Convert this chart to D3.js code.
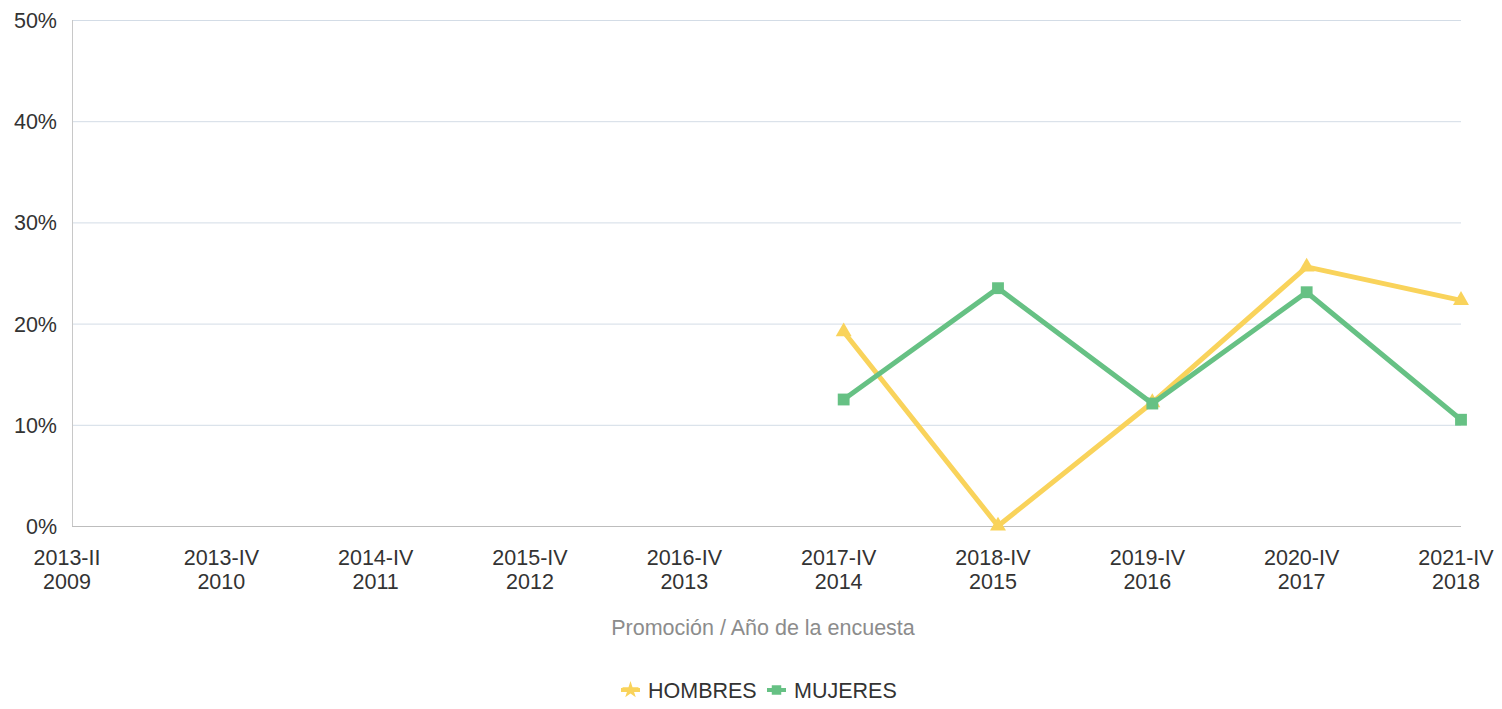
<!DOCTYPE html>
<html><head><meta charset="utf-8">
<script src="https://cdn.jsdelivr.net/npm/d3@7"></script>
<style>body{margin:0;background:#fff;font-family:"Liberation Sans",Arial,sans-serif;}</style>
</head><body><svg id="c" width="1502" height="709"></svg>
<script>
const categories = ["2013-II|2009","2013-IV|2010","2014-IV|2011","2015-IV|2012","2016-IV|2013","2017-IV|2014","2018-IV|2015","2019-IV|2016","2020-IV|2017","2021-IV|2018"];
const hombres = [null,null,null,null,null,19.2,0,12.2,25.6,22.3];
const mujeres = [null,null,null,null,null,12.5,23.5,12.1,23.1,10.5];
const yTicks = [0,10,20,30,40,50];
const xTitle = "Promoción / Año de la encuesta";
const seriesNames = ["HOMBRES","MUJERES"];
const colors = ["#f9d35b","#66c184"];

const svg = d3.select("#c");
const L=72,R=1461,T=20,B=526;
const FS=21.5;
const x = d3.scalePoint().domain(categories).range([L,R]).padding(0);
const y = d3.scaleLinear().domain([0,50]).range([B,T]);

// grid
svg.append("g").selectAll("line").data(yTicks.filter(d=>d>0)).join("line")
  .attr("x1",L).attr("x2",R).attr("y1",d=>y(d)+0.5).attr("y2",d=>y(d)+0.5)
  .attr("stroke","#d3dce6").attr("stroke-width",1);
// axes lines
svg.append("line").attr("x1",L+0.5).attr("x2",L+0.5).attr("y1",T).attr("y2",B).attr("stroke","#c8c8c8");
svg.append("line").attr("x1",L).attr("x2",R).attr("y1",B+0.5).attr("y2",B+0.5).attr("stroke","#bdbdbd");

// y labels
svg.append("g").selectAll("text").data(yTicks).join("text")
  .attr("x",57).attr("y",d=>y(d)+8).attr("text-anchor","end")
  .attr("font-size",FS).attr("fill","#333").text(d=>d+"%");
// x labels
const xl = svg.append("g").selectAll("text").data(categories).join("text")
  .attr("text-anchor","middle").attr("font-size",FS).attr("fill","#333");
xl.each(function(d,i){
  const parts=d.split("|"); const cx = x(d)-5;
  const t=d3.select(this);
  t.append("tspan").attr("x",cx).attr("y",565).text(parts[0]);
  t.append("tspan").attr("x",cx).attr("y",589).text(parts[1]);
});
svg.append("text").attr("x",763).attr("y",635).attr("text-anchor","middle")
  .attr("font-size",FS).attr("fill","#8c8c8c").text(xTitle);

const line = d3.line().defined(d=>d.v!==null).x(d=>x(d.c)).y(d=>y(d.v));
const data = [hombres,mujeres].map(s=>s.map((v,i)=>({c:categories[i],v})));
data.forEach((s,k)=>{
  svg.append("path").datum(s).attr("d",line).attr("fill","none")
    .attr("stroke",colors[k]).attr("stroke-width",5).attr("stroke-linejoin","miter");
});
const tri = d3.symbol().type(d3.symbolTriangle).size(110);
const sq = d3.symbol().type(d3.symbolSquare).size(140);
svg.append("g").selectAll("path").data(data[0].filter(d=>d.v!==null)).join("path")
  .attr("d",tri).attr("transform",d=>`translate(${x(d.c)},${y(d.v)})`).attr("fill",colors[0]);
svg.append("g").selectAll("path").data(data[1].filter(d=>d.v!==null)).join("path")
  .attr("d",sq).attr("transform",d=>`translate(${x(d.c)},${y(d.v)})`).attr("fill",colors[1]);

// legend
const lg = svg.append("g");
const items=[{n:seriesNames[0],c:colors[0],s:"tri",x:621},{n:seriesNames[1],c:colors[1],s:"sq",x:767}];
items.forEach(it=>{
  lg.append("line").attr("x1",it.x).attr("x2",it.x+19).attr("y1",690).attr("y2",690).attr("stroke",it.c).attr("stroke-width",4);
  lg.append("path").attr("d",it.s==="tri"?d3.symbol().type(d3.symbolStar).size(90)():d3.symbol().type(d3.symbolSquare).size(90)())
    .attr("transform",`translate(${it.x+9.5},690)`).attr("fill",it.c);
  lg.append("text").attr("x",it.x+27).attr("y",698).attr("font-size",FS).attr("fill","#333").text(it.n);
});
</script></body></html>
